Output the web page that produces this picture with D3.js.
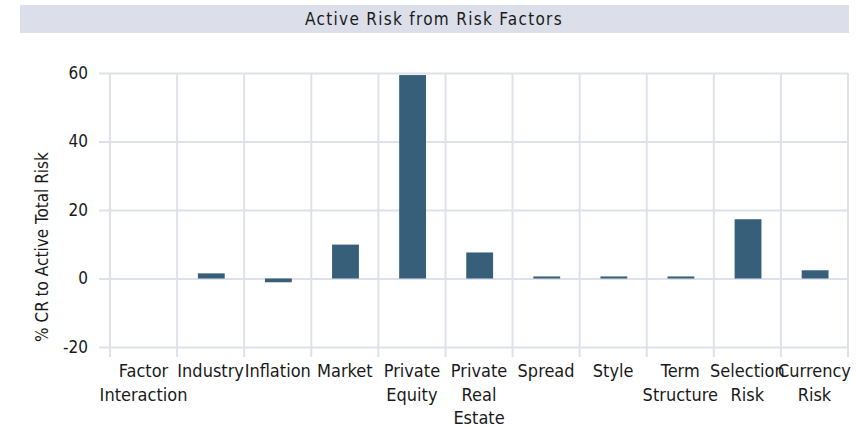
<!DOCTYPE html>
<html>
<head>
<meta charset="utf-8">
<script src="https://cdn.jsdelivr.net/npm/d3@7"></script>
<style>
  html, body { margin: 0; padding: 0; background: #ffffff; }
  svg { display: block; }
</style>
</head>
<body>
<svg id="chart" width="857" height="427"></svg>
<script>
// Risk factor categories (label lines) and their % contribution to active total risk
const categories = [
  ["Factor", "Interaction"],
  ["Industry"],
  ["Inflation"],
  ["Market"],
  ["Private", "Equity"],
  ["Private", "Real", "Estate"],
  ["Spread"],
  ["Style"],
  ["Term", "Structure"],
  ["Selection", "Risk"],
  ["Currency", "Risk"]
];
const values = [0, 1.5, -1.1, 9.9, 59.4, 7.6, 0.6, 0.6, 0.6, 17.3, 2.4];
const yTicks = [60, 40, 20, 0, -20];

const chartTitle = "Active Risk from Risk Factors";
const yTitle = "% CR to Active Total Risk";

const W = 857, H = 427;
const margin = { top: 73, right: 9, bottom: 80, left: 110 };
const gridColor = "#dfe1ea";
const barColor = "#375f79";
const textColor = "#1a1a1a";
const narrowFont = "'Liberation Sans Narrow', 'DejaVu Sans Condensed', 'Roboto', sans-serif";

const svg = d3.select("#chart");

// Title band
svg.append("rect")
  .attr("x", 20).attr("y", 5)
  .attr("width", 829).attr("height", 28)
  .attr("fill", "#dcdfe9");
svg.append("text")
  .attr("x", 434).attr("y", 19)
  .attr("text-anchor", "middle")
  .attr("dominant-baseline", "central")
  .attr("font-family", "'DejaVu Sans Condensed', 'Open Sans', sans-serif")
  .attr("font-size", 17)
  .attr("letter-spacing", 1.3)
  .attr("fill", textColor)
  .text(chartTitle);

const keys = categories.map((d, i) => i);
const x = d3.scaleBand()
  .domain(keys)
  .range([margin.left, W - margin.right])
  .padding(0);

const y = d3.scaleLinear()
  .domain([-20, 60])
  .range([H - margin.bottom, margin.top]);

const plotLeft = margin.left, plotRight = W - margin.right;
const plotTop = margin.top, plotBottom = H - margin.bottom;

// Horizontal gridlines with short tick stubs on the left
const yAxis = d3.axisLeft(y)
  .tickValues(yTicks)
  .tickSize(0)
  .tickFormat(d => String(d));

const gy = svg.append("g")
  .attr("transform", `translate(${plotLeft - 11},0)`)
  .call(yAxis);
gy.select(".domain").remove();
gy.selectAll(".tick line")
  .attr("x1", 0)
  .attr("x2", plotRight - plotLeft + 11)
  .attr("stroke", gridColor)
  .attr("stroke-width", 2);
gy.selectAll(".tick text")
  .attr("x", -11)
  .attr("font-family", narrowFont)
  .attr("font-size", 17)
  .attr("fill", textColor);

// Vertical gridlines at category boundaries, extended below the plot
const boundaries = keys.map(k => x(k)).concat([plotRight]);
svg.append("g")
  .selectAll("line")
  .data(boundaries)
  .join("line")
  .attr("x1", d => d).attr("x2", d => d)
  .attr("y1", plotTop).attr("y2", plotBottom + 10)
  .attr("stroke", gridColor)
  .attr("stroke-width", 2);

// Bars
const bw = x.bandwidth();
svg.append("g")
  .selectAll("rect")
  .data(values)
  .join("rect")
  .attr("x", (d, i) => x(i) + bw * 0.31)
  .attr("width", bw * 0.4)
  .attr("y", d => y(Math.max(0, d)))
  .attr("height", d => Math.abs(y(d) - y(0)))
  .attr("fill", barColor);

// Category labels
const labels = svg.append("g")
  .selectAll("text")
  .data(categories)
  .join("text")
  .attr("x", (d, i) => x(i) + bw / 2)
  .attr("y", 377)
  .attr("text-anchor", "middle")
  .attr("font-family", narrowFont)
  .attr("font-size", 18)
  .attr("fill", textColor);
labels.selectAll("tspan")
  .data((d, i) => d.map(line => ({ line, i })))
  .join("tspan")
  .attr("x", d => x(d.i) + bw / 2)
  .attr("dy", (d, j) => j === 0 ? 0 : 23.5)
  .text(d => d.line);

// Y axis title
svg.append("text")
  .attr("transform", `translate(48,247) rotate(-90)`)
  .attr("text-anchor", "middle")
  .attr("font-family", narrowFont)
  .attr("font-size", 17)
  .attr("fill", textColor)
  .text(yTitle);
</script>
</body>
</html>
